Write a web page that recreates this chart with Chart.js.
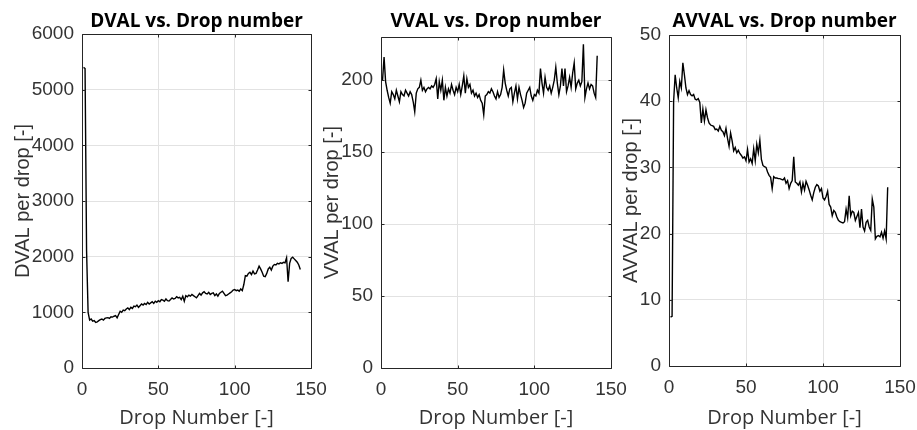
<!DOCTYPE html>
<html>
<head>
<meta charset="utf-8">
<script src="https://cdn.jsdelivr.net/npm/chart.js@4.4.0/dist/chart.umd.min.js"></script>
<style>
  body { margin: 0; background: #fff; }
  #wrap { position: relative; width: 917px; height: 430px; }
  canvas { position: absolute; left: 0; top: 0; }
</style>
</head>
<body>
<div id="wrap">
  <canvas id="dvalChart" width="917" height="430"></canvas>
  <canvas id="vvalChart" width="917" height="430"></canvas>
  <canvas id="avvalChart" width="917" height="430"></canvas>
</div>
<script>
// values, one per drop (drop 1 first)
var dval = [
  5400, 5380, 2100, 1000, 860, 880, 840, 850, 820, 830,
  850, 870, 880, 860, 890, 900, 905, 890, 920, 915,
  930, 940, 900, 960, 1020, 1000, 1040, 1030, 1060, 1080,
  1050, 1090, 1070, 1110, 1100, 1130, 1090, 1120, 1150, 1130,
  1160, 1140, 1180, 1150, 1170, 1190, 1160, 1200, 1180, 1210,
  1190, 1230, 1220, 1200, 1240, 1210, 1205, 1230, 1260, 1240,
  1250, 1280, 1260, 1270, 1230, 1290, 1200, 1300, 1280, 1310,
  1290, 1320, 1300, 1280, 1260, 1300, 1340, 1310, 1350, 1370,
  1340, 1330, 1360, 1320, 1340, 1350, 1300, 1330, 1290, 1340,
  1360, 1380, 1340, 1300, 1310, 1330, 1350, 1370, 1400, 1410,
  1390, 1400, 1380, 1420, 1390, 1500, 1660, 1650, 1700, 1720,
  1680, 1740, 1690, 1700, 1760, 1830, 1780, 1720, 1650, 1640,
  1700, 1780, 1810, 1760, 1830, 1860, 1850, 1880, 1870, 1890,
  1880, 1900, 1890, 1980, 1550, 1880, 1970, 1990, 1960, 1930,
  1900, 1850, 1770
];
var vval = [
  200, 216, 199, 193, 188, 184, 192, 190, 187, 193,
  189, 185, 192, 190, 189, 193, 191, 189, 192, 190,
  185, 178, 191, 194, 195, 200, 193, 195, 192, 194,
  195, 194, 196, 195, 197, 201, 187, 199, 193, 200,
  186, 195, 189, 194, 191, 197, 193, 190, 195, 192,
  197, 190, 196, 203, 191, 201, 195, 197, 191, 193,
  189, 191, 188, 190, 186, 184, 176, 189, 190, 192,
  191, 194, 192, 189, 187, 192, 188, 190, 195, 207,
  198, 193, 189, 194, 195, 185, 191, 196, 187, 195,
  190, 186, 181, 184, 191, 193, 195, 189, 186, 190,
  189, 193, 191, 208, 198, 191, 202, 195, 193, 196,
  191, 195, 200, 209, 198, 190, 196, 208, 196, 208,
  192, 196, 202, 195, 205, 212, 194, 198, 200, 196,
  199, 225, 188, 194, 198, 194, 197, 196, 191, 188,
  217
];
var avval = [
  7.4, 7.5, 40, 44, 42, 40.5, 43, 42, 45.8, 44,
  42, 41, 41.6, 41, 40.8, 41, 40.3, 40.2, 40.4, 39.8,
  36.7, 38.8, 37, 38.7, 37.5, 36.7, 36.4, 36.3, 36.2, 35.7,
  35.8, 35.5, 36.2, 35.6, 35.4, 34.8, 35.9, 34.4, 33.2, 35.2,
  34, 32.5, 33, 32.2, 32.6, 32.1, 31.8, 31.4, 31.6, 31,
  32.7, 30.8, 31.3, 30.6, 32.8, 31, 33.5, 32.2, 34.1, 31.2,
  30.3, 30.1, 30, 29.3, 28.8, 28.5, 26.8, 28.6, 28.4, 28.4,
  28.3, 28.3, 28.2, 28.1, 28.4, 27.6, 28, 26.8, 27.6, 28,
  31.6, 27.8, 27.6, 27.3, 27.8, 26.3, 27.6, 26.6, 27.9, 27.3,
  26.6, 25.8, 25.1, 26.2, 27, 27.4, 27.2, 26.4, 26.8, 25.4,
  25.1, 25.6, 26.4, 24.4, 24, 22.7, 23.5, 23.2, 22.5, 22,
  21.8, 21.7, 21.6, 21.8, 23.7, 22.4, 25.7, 22.7, 23.4, 23.2,
  22, 22.6, 23.2, 20.9, 23.7, 21, 20.4, 21.7, 22, 21,
  20.5, 25.2, 24, 19.2, 19.6, 19.7, 19.5, 20.2, 19.3, 20.4,
  19.2, 27
];

var dropTicks = [0, 50, 100, 150];
var dvalTicks = [0, 1000, 2000, 3000, 4000, 5000, 6000];
var vvalTicks = [0, 50, 100, 150, 200];
var avvalTicks = [0, 10, 20, 30, 40, 50];

// matlab style box with inward tick marks
var boxPlugin = {
  id: 'box',
  afterDraw: function (chart) {
    var ctx = chart.ctx, a = chart.chartArea, sx = chart.scales.x, sy = chart.scales.y;
    var l = Math.round(a.left) + 0.5, r = Math.round(a.right) + 0.5;
    var t = Math.round(a.top) + 0.5, b = Math.round(a.bottom) + 0.5;
    ctx.save();
    ctx.strokeStyle = '#262626';
    ctx.lineWidth = 1;
    ctx.beginPath();
    ctx.rect(l, t, r - l, b - t);
    sx.ticks.forEach(function (tk) {
      var px = Math.round(sx.getPixelForValue(tk.value)) + 0.5;
      ctx.moveTo(px, b); ctx.lineTo(px, b - 3);
      ctx.moveTo(px, t); ctx.lineTo(px, t + 3);
    });
    sy.ticks.forEach(function (tk) {
      var py = Math.round(sy.getPixelForValue(tk.value)) + 0.5;
      ctx.moveTo(l, py); ctx.lineTo(l + 3, py);
      ctx.moveTo(r, py); ctx.lineTo(r - 3, py);
    });
    ctx.stroke();
    ctx.restore();
  }
};

var tickFont = { family: 'Liberation Sans', size: 19 };
var gridColor = '#e2e2e2';

function makePanel(id, p) {
  var yAxisW = 75;
  return new Chart(document.getElementById(id), {
    type: 'line',
    data: {
      datasets: [{
        data: p.values.map(function (v, i) { return { x: i + 1, y: v }; }),
        borderColor: '#000',
        borderWidth: 1.4,
        pointRadius: 0,
        tension: 0,
        fill: false
      }]
    },
    options: {
      responsive: false,
      animation: false,
      events: [],
      layout: { padding: { left: p.left - yAxisW, right: 917 - p.right, top: 0, bottom: 0 } },
      plugins: {
        legend: { display: false },
        tooltip: { enabled: false },
        title: {
          display: true,
          text: p.title,
          fullSize: false,
          color: '#000',
          font: { family: 'Open Sans', size: 19, weight: 'bold' },
          padding: { top: 10, bottom: p.top - 10 - 22.8 }
        }
      },
      scales: {
        x: {
          type: 'linear',
          min: 0,
          max: 150,
          bounds: 'data',
          afterBuildTicks: function (s) { s.ticks = dropTicks.map(function (v) { return { value: v }; }); },
          afterFit: function (s) { s.height = 430 - p.bottom; s.paddingLeft = 0; s.paddingRight = 0; },
          grid: { color: gridColor, drawTicks: false },
          border: { display: false },
          ticks: { color: '#333', font: tickFont, padding: 10, maxRotation: 0, callback: function (v) { return '' + v; } },
          title: {
            display: true,
            text: 'Drop Number [-]',
            color: '#333',
            font: { family: 'Open Sans', size: 20 },
            padding: { top: 0, bottom: 0 }
          }
        },
        y: {
          min: 0,
          max: p.yMax,
          bounds: 'data',
          afterBuildTicks: function (s) { s.ticks = p.yTicks.map(function (v) { return { value: v }; }); },
          afterFit: function (s) { s.width = yAxisW; s.paddingTop = 0; s.paddingBottom = 0; },
          grid: { color: gridColor, drawTicks: false },
          border: { display: false },
          ticks: { color: '#333', font: tickFont, padding: 8, callback: function (v) { return '' + v; } },
          title: {
            display: true,
            text: p.yLabel,
            color: '#333',
            font: { family: 'Liberation Sans', size: 20 },
            padding: { top: p.yTitlePad, bottom: 0 }
          }
        }
      }
    },
    plugins: [boxPlugin]
  });
}

makePanel('dvalChart', {
  values: dval, title: 'DVAL vs. Drop number', yLabel: 'DVAL per drop [-]',
  yMax: 6000, yTicks: dvalTicks,
  left: 82, right: 311, top: 34, bottom: 368, yTitlePad: 4
});
makePanel('vvalChart', {
  values: vval, title: 'VVAL vs. Drop number', yLabel: 'VVAL per drop [-]',
  yMax: 230, yTicks: vvalTicks,
  left: 381, right: 611, top: 37, bottom: 368, yTitlePad: 14
});
makePanel('avvalChart', {
  values: avval, title: 'AVVAL vs. Drop number', yLabel: 'AVVAL per drop [-]',
  yMax: 50, yTicks: avvalTicks,
  left: 669, right: 900, top: 35, bottom: 366, yTitlePad: 25
});
</script>
</body>
</html>
